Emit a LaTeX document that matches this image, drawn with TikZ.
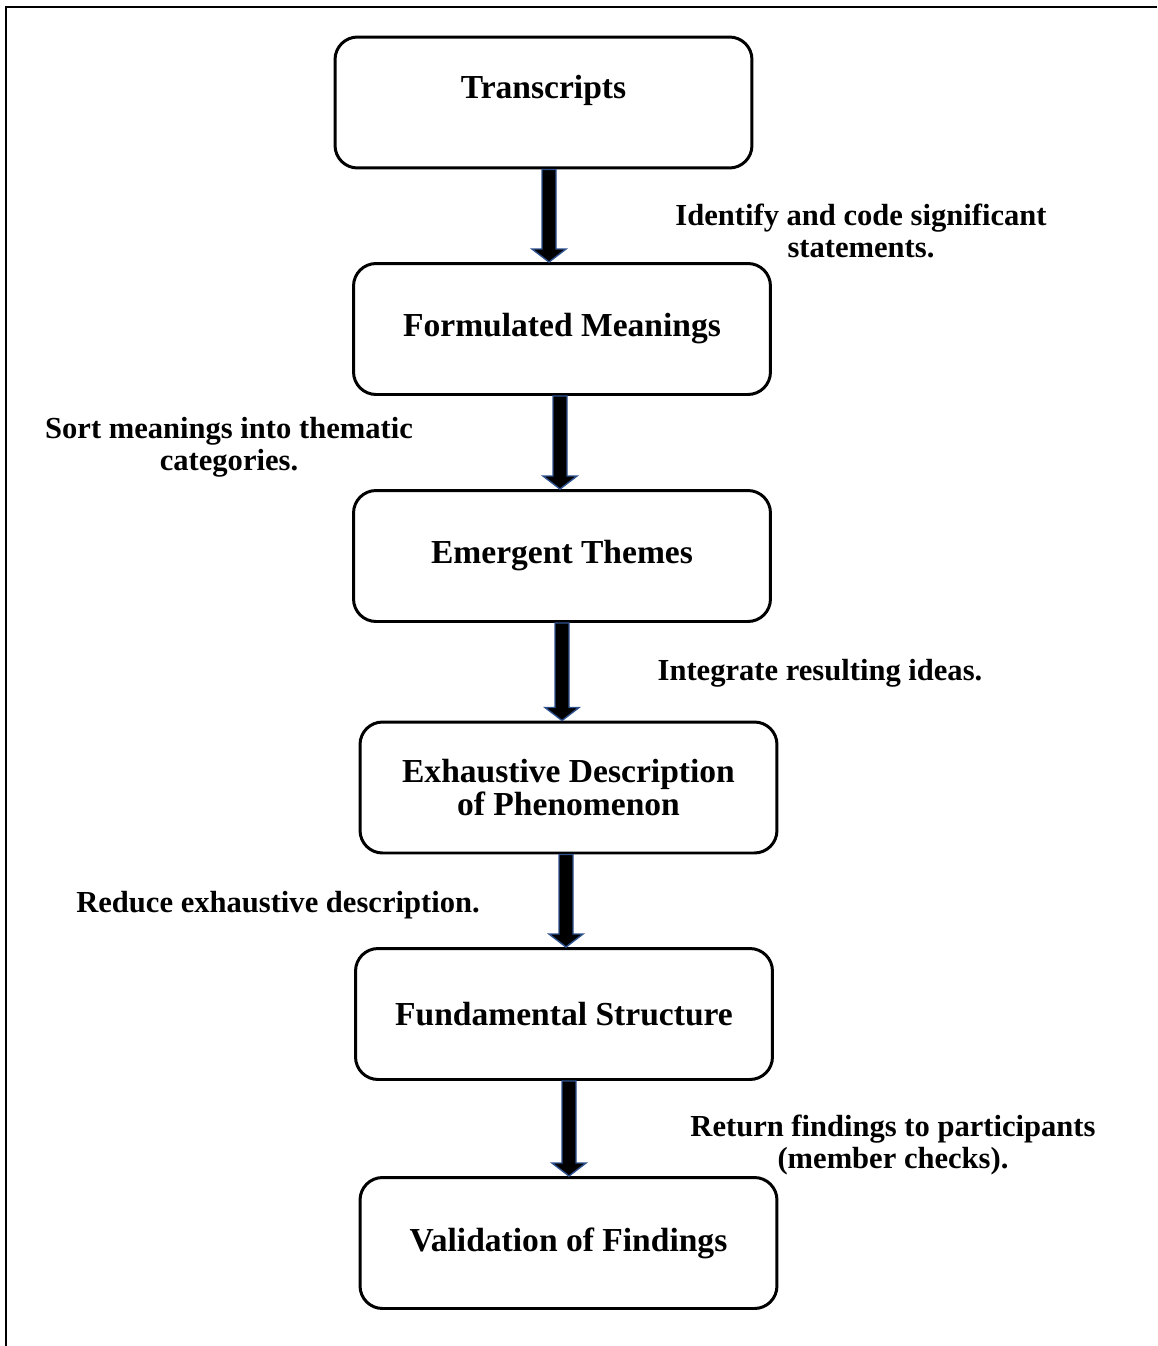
\documentclass[tikz,border=0pt]{standalone}
\usepackage{fontspec}
\setmainfont{Liberation Serif}
\usetikzlibrary{calc}
\definecolor{arrowblue}{RGB}{47,82,143}

\begin{document}
\begin{tikzpicture}[x=0.02cm,y=-0.02cm,
        stage/.style={draw, line width=1.7pt, rounded corners=0.45cm, minimum width=8.34cm, minimum height=2.62cm, align=center, font=\fontsize{19.1}{19}\selectfont\bfseries},
        note/.style={align=center, font=\fontsize{17.4}{18.4}\selectfont\bfseries},
        flow/.style={fill=black, draw=arrowblue, line width=0.8pt}]
        \useasboundingbox (0,0) rectangle (1157,1346);
        \draw[line width=1.7pt] (6,1346) -- (6,7) -- (1157,7);
        % stages
        \node[stage] (tr) at (543.5,102.5) {\raisebox{0.09cm}[0pt][0pt]{Transcripts}};
        \node[stage] (fm) at (562,329) {Formulated Meanings};
        \node[stage] (et) at (562,556) {Emergent Themes};
        \node[stage] (ed) at (568.5,787.5) {Exhaustive Description\\of Phenomenon};
        \node[stage] (fs) at (564,1014) {Fundamental Structure};
        \node[stage] (vf) at (568.5,1243) {Validation of Findings};
        % steps between stages
        \node[note] (n1) at (861,231) {Identify and code significant\\statements.};
        \node[note] (n2) at (229,447) {Sort meanings into thematic\\categories.};
        \node[note] (n3) at (820,673) {Integrate resulting ideas.};
        \node[note] (n4) at (278,905) {Reduce exhaustive description.};
        \node[note] (n5) at (893,1145) {Return findings to participants\\(member checks).};
        % block arrows
        \foreach \a/\b/\x in {tr/fm/549, fm/et/560, et/ed/562, ed/fs/566, fs/vf/569}
            \draw[flow] ($(\a.south -| \x,0)+(-7,0)$) -- ($(\a.south -| \x,0)+(7,0)$)
                -- ($(\b.north -| \x,0)+(7,-13)$) -- ($(\b.north -| \x,0)+(17,-13)$)
                -- (\b.north -| \x,0) -- ($(\b.north -| \x,0)+(-17,-13)$)
                -- ($(\b.north -| \x,0)+(-7,-13)$) -- cycle;
    \end{tikzpicture}
\end{document}
